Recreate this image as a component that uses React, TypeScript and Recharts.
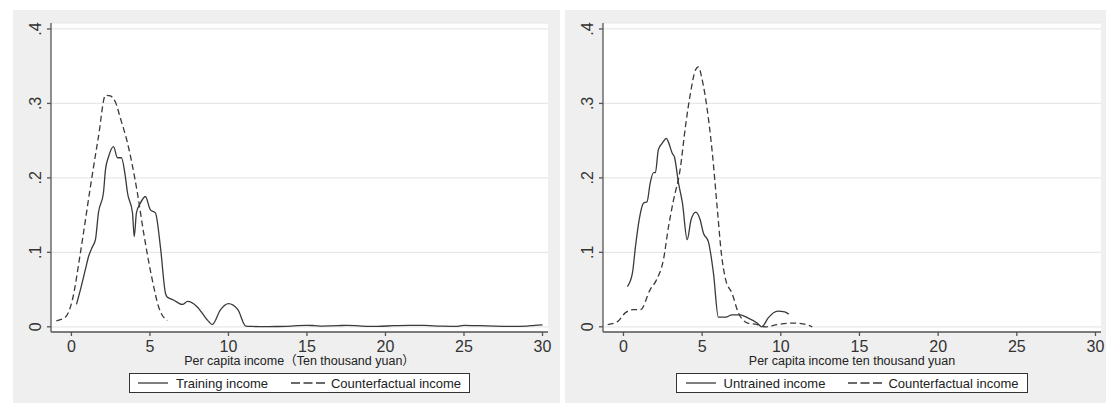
import { LineChart, Line, XAxis, YAxis, CartesianGrid } from 'recharts';

// x axis ticks and y ticks (Stata style labels)
const xTicks = [0, 5, 10, 15, 20, 25, 30];
const yTicks = [0, 0.1, 0.2, 0.3, 0.4];
const yTickLabels = ['0', '.1', '.2', '.3', '.4'];

// left panel: trained households
const trainingX = [0.32, 0.6, 0.89, 1.1, 1.33, 1.53, 1.72, 2.04, 2.17, 2.36, 2.68, 2.93, 3.18, 3.44, 3.57, 3.89, 4.0, 4.14, 4.39, 4.71, 5.03, 5.35, 5.67, 5.99, 6.1, 6.5, 7.07, 7.4, 8.0, 8.66, 8.97, 9.5, 10.0, 10.6, 11.1, 11.5, 12, 13, 14, 15, 15.5, 16, 17, 17.5, 18.5, 19.5, 20.5, 21.5, 22.5, 23.5, 24.5, 25, 26, 27, 28, 29, 29.5, 30];
const trainingY = [0.03, 0.052, 0.077, 0.095, 0.107, 0.117, 0.153, 0.18, 0.211, 0.228, 0.242, 0.227, 0.227, 0.201, 0.18, 0.153, 0.121, 0.153, 0.166, 0.175, 0.157, 0.153, 0.107, 0.045, 0.04, 0.036, 0.03, 0.034, 0.027, 0.009, 0.003, 0.023, 0.031, 0.023, 0.001, 0.0005, 0.0003, 0.0004, 0.001, 0.002, 0.0015, 0.001, 0.0015, 0.002, 0.001, 0.0005, 0.0015, 0.002, 0.0018, 0.001, 0.0005, 0.002, 0.0015, 0.0008, 0.0005, 0.001, 0.002, 0.0025];
const cfLeftX = [-0.96, -0.38, 0.06, 0.57, 1.21, 1.72, 2.17, 2.48, 2.8, 3.12, 3.57, 4.2, 4.6, 5.15, 5.55, 6.1];
const cfLeftY = [0.008, 0.013, 0.036, 0.099, 0.188, 0.255, 0.311, 0.31, 0.302, 0.28, 0.247, 0.18, 0.126, 0.063, 0.027, 0.008];

// right panel: untrained households
const untrainedX = [0.25, 0.57, 0.76, 1.0, 1.27, 1.5, 1.7, 1.91, 2.03, 2.22, 2.48, 2.73, 2.86, 3.1, 3.24, 3.5, 3.75, 4.05, 4.3, 4.6, 4.87, 5.08, 5.4, 5.72, 6.03, 6.5, 6.9, 7.4, 7.9, 8.5, 8.8, 9.2, 9.8, 10.25, 10.5];
const untrainedY = [0.054, 0.072, 0.107, 0.144, 0.166, 0.168, 0.193, 0.207, 0.207, 0.238, 0.247, 0.253, 0.248, 0.233, 0.228, 0.193, 0.166, 0.117, 0.144, 0.154, 0.144, 0.126, 0.114, 0.072, 0.013, 0.013, 0.016, 0.016, 0.012, 0.005, 0.0, 0.012, 0.021, 0.02, 0.017];
const cfRightX = [-1.0, -0.38, 0.13, 0.63, 1.08, 1.7, 2.1, 2.54, 2.86, 3.18, 3.6, 3.94, 4.26, 4.58, 4.77, 5.0, 5.33, 5.65, 5.97, 6.22, 6.5, 6.9, 7.3, 7.9, 8.5, 9.0, 9.8, 10.8, 11.4, 12.0];
const cfRightY = [0.003, 0.007, 0.019, 0.023, 0.023, 0.05, 0.063, 0.09, 0.134, 0.17, 0.211, 0.269, 0.314, 0.345, 0.349, 0.332, 0.291, 0.233, 0.157, 0.099, 0.063, 0.045, 0.019, 0.005, 0.003, 0.0, 0.003, 0.005, 0.004, 0.0];

const FONT = '"Liberation Sans", Arial, "Noto Sans CJK SC", sans-serif';
const LINE = '#3a3a3a';
const AXIS = '#555';

const zip = (xs: number[], ys: number[]) => xs.map((x, i) => ({ x, y: ys[i] }));

function YTick({ x, y, payload }: any) {
  const label = yTickLabels[yTicks.indexOf(payload.value)];
  return (
    <g transform={`translate(${x - 4},${y}) rotate(-90)`}>
      <text textAnchor="middle" fontSize={16} fill="#333" fontFamily={FONT}>{label}</text>
    </g>
  );
}

interface PanelProps {
  left: number;
  width: number;
  marginRight: number;
  solid: { x: number; y: number }[];
  dashed: { x: number; y: number }[];
  solidName: string;
  dashedName: string;
  title: string;
  legendLeft: number;
  legendWidth: number;
}

function Panel(p: PanelProps) {
  return (
    <div style={{ position: 'absolute', left: p.left, top: 10, width: p.width, height: 393, background: '#efefef' }}>
      <LineChart width={p.width} height={393} margin={{ top: 13, right: p.marginRight, bottom: 0, left: 0 }}>
        <CartesianGrid vertical={false} fill="#fff" stroke="#e8e8e8" strokeWidth={1.2} />
        <XAxis
          type="number"
          dataKey="x"
          domain={[-1.3, 30.35]}
          ticks={xTicks}
          allowDataOverflow
          height={71}
          tickSize={4}
          tickMargin={5}
          stroke={AXIS}
          strokeWidth={1.3}
          tick={{ fontSize: 16, fill: '#333', fontFamily: FONT }}
          label={{
            content: ({ viewBox }: any) => (
              <text x={viewBox.x + viewBox.width / 2} y={viewBox.y + 33} textAnchor="middle" fontSize={12.5} fill="#222" fontFamily={FONT}>
                {p.title}
              </text>
            ),
          }}
        />
        <YAxis
          type="number"
          domain={[-0.007, 0.408]}
          ticks={yTicks}
          allowDataOverflow
          width={38}
          tickSize={4}
          tickMargin={2}
          stroke={AXIS}
          strokeWidth={1.3}
          tick={<YTick />}
        />
        <Line data={p.dashed} dataKey="y" type="monotone" stroke={LINE} strokeWidth={1.3} strokeDasharray="6 3.5" dot={false} isAnimationActive={false} />
        <Line data={p.solid} dataKey="y" type="monotone" stroke={LINE} strokeWidth={1.3} dot={false} isAnimationActive={false} />
      </LineChart>
      <div
        style={{
          position: 'absolute', left: p.legendLeft, top: 363, width: p.legendWidth, height: 20, boxSizing: 'border-box',
          border: '1px solid #333', background: '#fff', display: 'flex', alignItems: 'center', justifyContent: 'center',
          fontFamily: FONT, fontSize: 13, color: '#222',
        }}
      >
        <svg width={30} height={10} style={{ marginRight: 8 }}>
          <line x1={0} y1={5} x2={30} y2={5} stroke={LINE} strokeWidth={1.3} />
        </svg>
        <span style={{ marginRight: 23 }}>{p.solidName}</span>
        <svg width={34} height={10} style={{ marginRight: 6 }}>
          <line x1={0} y1={5} x2={34} y2={5} stroke={LINE} strokeWidth={1.3} strokeDasharray="9 3.5" />
        </svg>
        <span>{p.dashedName}</span>
      </div>
    </div>
  );
}

export default function App() {
  return (
    <div style={{ position: 'absolute', left: 0, top: 0, width: 1106, height: 403, background: '#fff', overflow: 'hidden' }}>
      <Panel
        left={13}
        width={547}
        marginRight={12}
        solid={zip(trainingX, trainingY)}
        dashed={zip(cfLeftX, cfLeftY)}
        solidName="Training income"
        dashedName="Counterfactual income"
        title="Per capita income（Ten thousand yuan）"
        legendLeft={116}
        legendWidth={341}
      />
      <Panel
        left={565}
        width={541}
        marginRight={5}
        solid={zip(untrainedX, untrainedY)}
        dashed={zip(cfRightX, cfRightY)}
        solidName="Untrained income"
        dashedName="Counterfactual income"
        title="Per capita income ten thousand yuan"
        legendLeft={111}
        legendWidth={352}
      />
    </div>
  );
}
